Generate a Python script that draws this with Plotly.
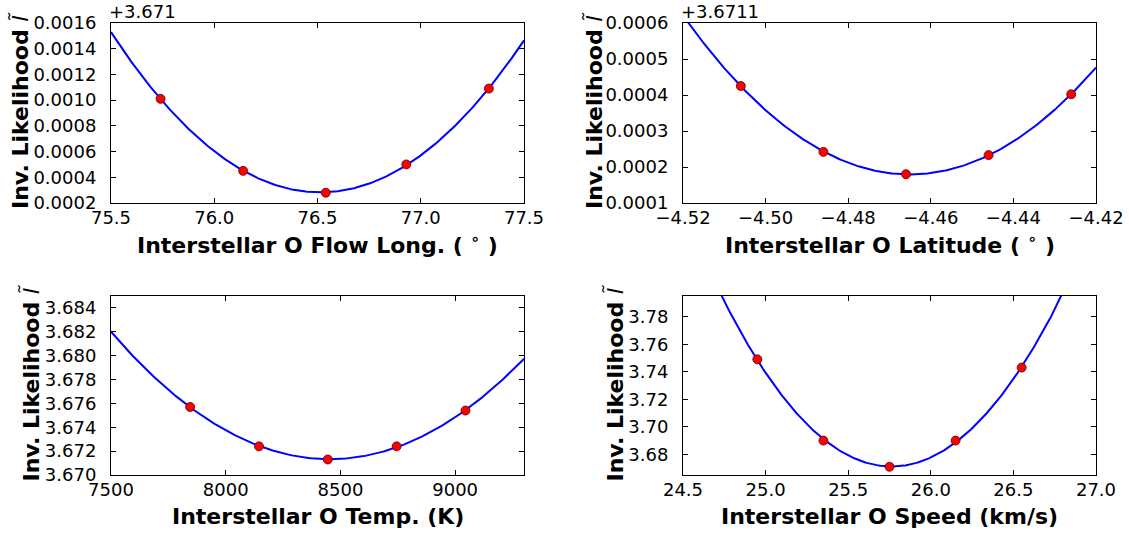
import numpy as np
import plotly.graph_objects as go

# ---------------- data ----------------
long_x = [75.74, 76.14, 76.54, 76.93, 77.33]
long_y = [3.67201, 3.67145, 3.67128, 3.67150, 3.67209]
long_offset = 3.671

lat_x = [-4.506, -4.486, -4.466, -4.446, -4.426]
lat_y = [3.671525, 3.671342, 3.671280, 3.671333, 3.671502]
lat_offset = 3.6711

temp_x = [7845, 8145, 8445, 8745, 9045]
temp_y = [3.6757, 3.6724, 3.6713, 3.6724, 3.6754]

speed_x = [24.95, 25.35, 25.75, 26.15, 26.55]
speed_y = [3.749, 3.690, 3.671, 3.690, 3.743]

long_xticks = [75.5, 76.0, 76.5, 77.0, 77.5]
long_yticks = [0.0002, 0.0004, 0.0006, 0.0008, 0.0010, 0.0012, 0.0014, 0.0016]
lat_xticks = [-4.52, -4.50, -4.48, -4.46, -4.44, -4.42]
lat_yticks = [0.0001, 0.0002, 0.0003, 0.0004, 0.0005, 0.0006]
temp_xticks = [7500, 8000, 8500, 9000]
temp_yticks = [3.670, 3.672, 3.674, 3.676, 3.678, 3.680, 3.682, 3.684]
speed_xticks = [24.5, 25.0, 25.5, 26.0, 26.5, 27.0]
speed_yticks = [3.68, 3.70, 3.72, 3.74, 3.76, 3.78]

x_titles = ["Interstellar O Flow Long. ( <sup>\u2218</sup> )",
            "Interstellar O Latitude ( <sup>\u2218</sup> )",
            "Interstellar O Temp. (K)",
            "Interstellar O Speed (km/s)"]
y_title = "Inv. Likelihood <span style='font-weight:normal'><i>l\u0303</i></span>"

# ---------------- layout geometry ----------------
W, H = 1129, 533
px_x = [(111, 524), (683, 1096), (111, 524), (683, 1096)]
px_y = [(23, 203), (23, 203), (296, 475), (296, 475)]

panels = [
    dict(x=long_x, y=long_y, off=long_offset, xr=[75.5, 77.5], yr=[0.0002, 0.0016],
         xt=long_xticks, yt=long_yticks, xf=".1f", yf=".4f"),
    dict(x=lat_x, y=lat_y, off=lat_offset, xr=[-4.52, -4.42], yr=[0.0001, 0.0006],
         xt=lat_xticks, yt=lat_yticks, xf=".2f", yf=".4f"),
    dict(x=temp_x, y=temp_y, off=0.0, xr=[7500, 9300], yr=[3.670, 3.685],
         xt=temp_xticks, yt=temp_yticks, xf="d", yf=".3f"),
    dict(x=speed_x, y=speed_y, off=0.0, xr=[24.5, 27.0], yr=[3.665, 3.795],
         xt=speed_xticks, yt=speed_yticks, xf=".1f", yf=".2f"),
]

ytitle_x = [20, 594, 31, 615]

FONT = "DejaVu Sans, Verdana, sans-serif"
fig = go.Figure()
annotations = []

for i, p in enumerate(panels):
    k = "" if i == 0 else str(i + 1)
    xa, ya = "x" + k, "y" + k
    xs = np.array(p["x"], dtype=float)
    ys = np.array(p["y"], dtype=float) - p["off"]
    xc = xs.mean()
    coef = np.polyfit(xs - xc, ys, 2)
    xf = np.linspace(p["xr"][0], p["xr"][1], 300)
    yf = np.polyval(coef, xf - xc)
    fig.add_trace(go.Scatter(x=xf, y=yf, mode="lines", xaxis=xa, yaxis=ya,
                             line=dict(color="#0000ff", width=2), showlegend=False,
                             hoverinfo="skip"))
    fig.add_trace(go.Scatter(x=xs, y=ys, mode="markers", xaxis=xa, yaxis=ya,
                             marker=dict(color="#ff0000", size=9,
                                         line=dict(color="#550000", width=0.8)),
                             showlegend=False))
    (x0, x1), (y0, y1) = px_x[i], px_y[i]
    common = dict(showline=True, linecolor="black", linewidth=1, mirror="ticks",
                  ticks="inside", ticklen=5, tickcolor="black", tickwidth=1,
                  showgrid=False, zeroline=False, automargin=False,
                  tickfont=dict(family=FONT, size=18, color="black"))
    fig.layout["xaxis" + k] = dict(domain=[x0 / W, x1 / W], range=p["xr"],
                                   anchor=ya, tickvals=p["xt"], tickformat=p["xf"],
                                   ticklabelstandoff=-2, **common)
    fig.layout["yaxis" + k] = dict(domain=[1 - y1 / H, 1 - y0 / H], range=p["yr"],
                                   anchor=xa, tickvals=p["yt"], tickformat=p["yf"],
                                   ticklabelstandoff=10, **common)
    # x title
    annotations.append(dict(text="<b>%s</b>" % x_titles[i], xref="paper", yref="paper",
                            x=(x0 + x1) / 2 / W, y=1 - (y1 + 41) / H,
                            xanchor="center", yanchor="middle", showarrow=False,
                            font=dict(family=FONT, size=22, color="black")))
    # y title
    annotations.append(dict(text="<b>%s</b>" % y_title, xref="paper", yref="paper",
                            x=ytitle_x[i] / W, y=1 - ((y0 + y1) / 2 - 2) / H,
                            xanchor="center", yanchor="middle", textangle=-90,
                            showarrow=False,
                            font=dict(family=FONT, size=22, color="black")))
    if p["off"]:
        annotations.append(dict(text="+%g" % p["off"], xref="paper", yref="paper",
                                x=x0 / W, y=1 - y0 / H, xanchor="left", yanchor="bottom",
                                showarrow=False, borderpad=0, xshift=-3,
                                font=dict(family=FONT, size=18, color="black")))

fig.update_layout(width=W, height=H, autosize=False,
                  margin=dict(l=0, r=0, t=0, b=0, pad=0, autoexpand=False),
                  paper_bgcolor="white", plot_bgcolor="white",
                  annotations=annotations, font=dict(family=FONT))

fig.write_html("out.html", include_plotlyjs=True, full_html=True,
               config={"responsive": False, "displayModeBar": False},
               post_script="document.body.style.margin='0px';document.body.style.overflow='hidden';")
